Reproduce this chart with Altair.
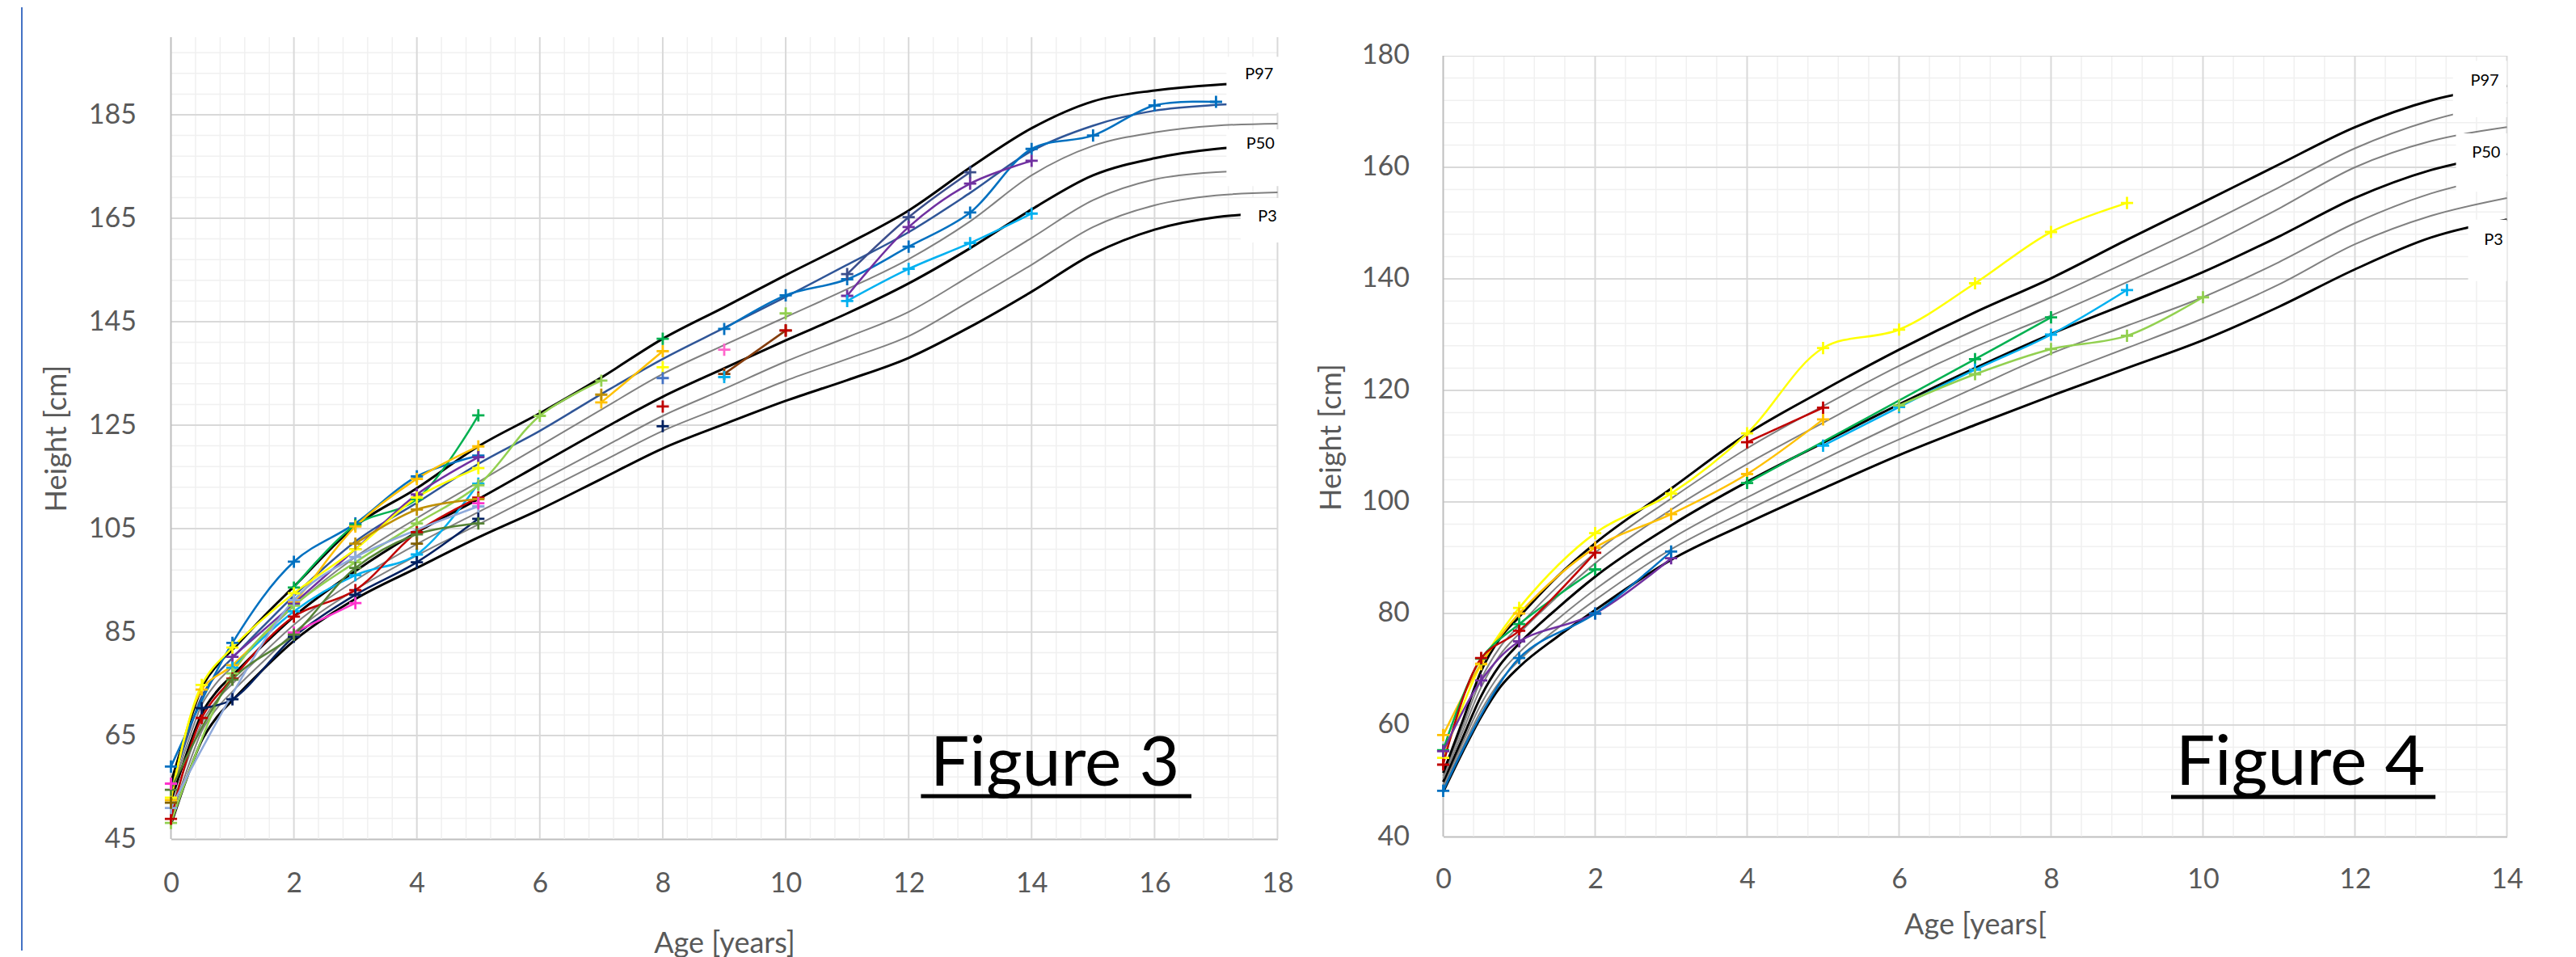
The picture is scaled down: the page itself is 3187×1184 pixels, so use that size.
import altair as alt
import pandas as pd

FONT = "Lato"
TXT = "#595959"
PLUS = "M-1,0L1,0M0,-1L0,1"

# ---------------- Figure 3 : percentile curves ----------------
F3_AGE = [0, 0.25, 0.5, 0.75, 1, 1.5, 2, 3, 4, 5, 6, 7, 8, 9, 10, 11, 12, 13, 14, 15, 16, 17, 18]
F3_P3 = [47.8, 56.5, 64.0, 68.6, 71.8, 77.8, 83.3, 91.4, 97.4, 103.3, 108.7, 114.6, 120.5, 125.2, 129.7, 133.7, 138.0, 144.0, 150.8, 158.1, 162.8, 165.2, 166.0]
F3_P10 = [49.2, 58.0, 65.8, 70.3, 73.5, 79.3, 84.9, 93.2, 99.8, 105.8, 111.9, 117.9, 123.9, 128.7, 133.6, 137.8, 142.2, 149.0, 156.0, 163.3, 167.5, 169.4, 170.0]
F3_P25 = [50.7, 59.6, 67.4, 71.9, 75.0, 80.9, 86.4, 95.0, 102.0, 108.2, 114.2, 120.5, 126.8, 132.0, 137.3, 142.0, 146.9, 153.9, 161.2, 168.5, 172.5, 173.9, 174.3]
F3_P50 = [52.3, 61.3, 69.2, 73.6, 76.6, 82.5, 88.0, 96.8, 104.3, 110.7, 117.4, 124.1, 130.5, 136.0, 141.4, 146.6, 152.4, 159.2, 166.7, 173.3, 176.6, 178.4, 179.0]
F3_P75 = [53.6, 62.8, 70.9, 75.3, 78.3, 84.3, 90.0, 99.5, 107.0, 114.0, 121.0, 128.0, 134.9, 140.5, 145.9, 151.3, 157.1, 164.4, 173.3, 179.0, 181.6, 182.9, 183.3]
F3_P90 = [54.8, 64.2, 72.5, 76.9, 80.0, 86.1, 92.0, 102.5, 110.0, 117.5, 123.9, 131.0, 137.8, 143.8, 149.8, 156.0, 162.3, 169.9, 178.0, 182.9, 185.8, 186.9, 187.3]
F3_P97 = [55.9, 65.6, 74.2, 78.6, 81.6, 87.9, 93.8, 105.5, 112.8, 120.9, 127.3, 134.2, 141.7, 147.8, 154.0, 160.0, 166.5, 174.8, 182.4, 187.6, 189.7, 190.8, 191.2]
F3_CURVES = ["P3", "P10", "P25", "P50", "P75", "P90", "P97"]
F3_CURVE_COLORS = ["#000000", "#808080", "#808080", "#000000", "#808080", "#2F5597", "#000000"]
F3_CURVE_WIDTHS = [3, 2, 2, 3, 2, 2.5, 3]

# ---------------- Figure 3 : patients (ages, heights) ----------------
F3_S01 = ([0, 1, 2, 3, 4, 5], [59.0, 82.9, 98.6, 106.0, 115.1, 119.1])
F3_S02 = ([2, 3, 4, 5], [93.6, 105.7, 110.7, 126.9])
F3_S03 = ([0, 0.5, 1, 2, 3, 4, 5], [52.5, 73.9, 78.6, 90.7, 105.4, 114.6, 120.9])
F3_S04 = ([1, 2, 3, 4, 5], [80.2, 90.5, 101.0, 111.6, 118.8])
F3_S05 = ([0, 0.5, 1, 2, 3, 4, 5], [53.0, 74.8, 82.0, 92.5, 101.0, 111.0, 116.7])
F3_S06 = ([1, 2, 3, 4, 5], [78.1, 89.0, 96.0, 100.0, 113.7])
F3_S07 = ([0, 1, 2, 3, 4, 5, 6, 7], [48.1, 77.0, 90.1, 98.5, 106.0, 113.4, 126.8, 133.6])
F3_S08 = ([0, 0.5, 1, 2, 3, 4, 5], [48.9, 68.4, 76.0, 88.0, 93.1, 104.3, 111.0])
F3_S09 = ([0.5, 1, 2, 3, 4, 5], [70.3, 72.0, 84.1, 92.2, 98.5, 106.9])
F3_S10 = ([2, 3], [84.9, 90.6])
F3_S11 = ([3, 4, 5], [102.1, 108.7, 110.7])
F3_S12 = ([0, 2, 3, 5], [51.0, 91.2, 99.5, 109.3])
F3_S13 = ([0, 1, 2, 3, 4, 5], [54.5, 75.8, 84.5, 97.4, 103.9, 106.0])
F3_S14 = ([0], [52.0])
F3_S15 = ([9, 10, 11, 12, 13, 14, 15, 16, 17], [143.6, 150.1, 153.2, 159.5, 166.1, 178.4, 181.0, 186.8, 187.5])
F3_S16 = ([11, 12, 13], [154.2, 165.2, 173.9])
F3_S17 = ([11, 12, 13, 14], [150.0, 163.3, 171.7, 176.1])
F3_S18 = ([11, 12, 13, 14], [149.0, 155.2, 160.2, 165.9])
F3_S19 = ([7, 8], [129.4, 139.3])
F3_S20 = ([7], [130.9])
F3_S21 = ([9, 10], [134.9, 143.3])
F3_S22 = ([8], [141.7])
F3_S23 = ([8], [136.2])
F3_S24 = ([8], [134.1])
F3_S25 = ([8], [128.6])
F3_S26 = ([8], [124.8])
F3_S27 = ([9], [139.6])
F3_S28 = ([10], [146.6])
F3_S29 = ([9], [134.3])
F3_S30 = ([4], [102.1])
F3_S31 = ([10], [143.3])
F3_S32 = ([5], [109.9])
F3_S33 = ([0], [55.7])
F3_SERIES = [F3_S01, F3_S02, F3_S03, F3_S04, F3_S05, F3_S06, F3_S07, F3_S08, F3_S09, F3_S10,
             F3_S11, F3_S12, F3_S13, F3_S14, F3_S15, F3_S16, F3_S17, F3_S18, F3_S19, F3_S20,
             F3_S21, F3_S22, F3_S23, F3_S24, F3_S25, F3_S26, F3_S27, F3_S28, F3_S29, F3_S30,
             F3_S31, F3_S32, F3_S33]
F3_SERIES_COLORS = ["#0070C0", "#00B050", "#FFC000", "#7030A0", "#FFFF00", "#00B0F0", "#92D050",
                    "#C00000", "#002060", "#FF33CC", "#BF8F00", "#8EA9DB", "#548235", "#806000",
                    "#0070C0", "#3B4E8C", "#7030A0", "#00B0F0", "#FFC000", "#BF8F00", "#843C0C",
                    "#00B050", "#FFFF00", "#4472C4", "#C00000", "#002060", "#FF66CC", "#92D050",
                    "#00B0F0", "#806000", "#C00000", "#FF33CC", "#FF33CC"]

# ---------------- Figure 4 : percentile curves ----------------
F4_AGE = [0, 0.25, 0.5, 0.75, 1, 1.5, 2, 3, 4, 5, 6, 7, 8, 9, 10, 11, 12, 13, 14]
F4_P3 = [48.0, 55.0, 61.5, 66.8, 70.4, 75.8, 80.6, 89.6, 96.2, 102.4, 108.4, 113.8, 119.0, 124.0, 129.0, 135.0, 141.7, 147.4, 150.6]
F4_P10 = [48.6, 55.8, 62.6, 67.9, 71.6, 77.3, 82.4, 91.5, 98.5, 105.0, 111.2, 117.0, 122.4, 127.6, 132.9, 139.0, 146.2, 151.3, 154.5]
F4_P25 = [49.2, 56.6, 63.8, 69.2, 73.0, 78.9, 84.3, 93.4, 100.8, 107.6, 114.2, 120.5, 126.6, 131.6, 136.7, 143.0, 150.0, 155.3, 158.6]
F4_P50 = [49.8, 57.5, 65.2, 70.8, 74.6, 80.9, 86.6, 95.8, 103.6, 110.6, 117.5, 124.0, 130.1, 135.6, 141.2, 147.6, 154.5, 159.5, 162.4]
F4_P75 = [50.4, 58.6, 66.8, 72.6, 76.4, 83.0, 89.0, 98.6, 106.8, 114.2, 121.4, 127.8, 133.4, 139.4, 145.6, 152.6, 160.0, 164.7, 167.2]
F4_P90 = [50.9, 59.5, 68.2, 74.0, 77.8, 84.8, 90.9, 100.6, 109.6, 117.2, 124.4, 130.8, 136.7, 143.0, 149.5, 156.4, 163.4, 168.4, 171.6]
F4_P97 = [51.4, 60.5, 69.7, 75.6, 79.4, 86.6, 92.6, 102.4, 112.2, 120.0, 127.3, 134.0, 140.1, 147.0, 153.7, 160.5, 167.2, 172.0, 174.6]
F4_CURVES = ["P3", "P10", "P25", "P50", "P75", "P90", "P97"]
F4_CURVE_COLORS = ["#000000", "#808080", "#808080", "#000000", "#808080", "#808080", "#000000"]
F4_CURVE_WIDTHS = [3, 2, 2, 3, 2, 2, 3]

# ---------------- Figure 4 : patients ----------------
F4_S01 = ([0, 0.5, 1, 2, 3, 4, 5, 6, 7, 8, 9], [54.1, 70.9, 81.0, 94.4, 101.5, 112.3, 127.6, 130.9, 139.2, 148.4, 153.6])
F4_S02 = ([0, 0.5, 1, 2, 3, 4, 5], [58.2, 71.0, 80.0, 91.8, 97.8, 105.0, 114.8])
F4_S03 = ([0, 0.5, 1, 2], [55.5, 71.9, 78.1, 87.9])
F4_S04 = ([4, 7, 8], [103.4, 125.6, 133.1])
F4_S05 = ([0, 0.5, 1, 2], [52.9, 72.0, 76.9, 90.9])
F4_S06 = ([4, 5], [110.7, 116.9])
F4_S07 = ([0, 0.5, 1, 2, 3], [55.3, 68.0, 75.0, 80.0, 89.9])
F4_S08 = ([0, 1, 2, 3], [48.2, 72.0, 80.0, 91.1])
F4_S09 = ([5, 6, 7, 8, 9], [110.1, 117.0, 123.7, 130.0, 138.0])
F4_S10 = ([6, 7, 8, 9, 10], [117.3, 122.9, 127.4, 129.8, 136.7])
F4_SERIES = [F4_S01, F4_S02, F4_S03, F4_S04, F4_S05, F4_S06, F4_S07, F4_S08, F4_S09, F4_S10]
F4_SERIES_COLORS = ["#FFFF00", "#FFC000", "#00B050", "#00B050", "#C00000", "#C00000",
                    "#7030A0", "#0070C0", "#00B0F0", "#92D050"]

# ---------------- axes / grid tick positions ----------------
F3_X_MAJOR = [0, 2, 4, 6, 8, 10, 12, 14, 16, 18]
F3_X_MINOR = [round(i * 0.4, 1) for i in range(46) if i % 5]
F3_Y_MAJOR = [45, 65, 85, 105, 125, 145, 165, 185]
F3_Y_MINOR = [45 + 4 * i for i in range(39) if i % 5]
F4_X_MAJOR = [0, 2, 4, 6, 8, 10, 12, 14]
F4_X_MINOR = [round(i * 0.4, 1) for i in range(36) if i % 5]
F4_Y_MAJOR = [40, 60, 80, 100, 120, 140, 160, 180]
F4_Y_MINOR = [40 + 4 * i for i in range(36) if i % 5]

# percentile label boxes: (x0, x1, y0, y1) and labels (x, y, text)
F3_BOXES = ([17.17, 17.17, 17.40], [18.26, 18.26, 18.26], [185.4, 171.2, 160.3], [196.2, 182.2, 168.9])
F3_PLABELS = ([17.47, 17.49, 17.68], [192.8, 179.4, 165.3], ["P97", "P50", "P3"])
F4_BOXES = ([13.29, 13.33, 13.49], [14.0, 14.0, 14.0], [169.0, 155.6, 139.6], [179.1, 166.1, 150.6])
F4_PLABELS = ([13.52, 13.54, 13.70], [175.5, 162.6, 147.0], ["P97", "P50", "P3"])


def long_curves(ages, lists, names, cols, widths):
    rows = []
    for name, vals, c, w in zip(names, lists, cols, widths):
        for a, v in zip(ages, vals):
            rows.append({"age": a, "h": v, "curve": name, "col": c, "sw": w})
    return pd.DataFrame(rows)


def long_series(series, cols):
    rows = []
    for i, ((ages, hs), c) in enumerate(zip(series, cols)):
        for a, v in zip(ages, hs):
            rows.append({"age": a, "h": v, "sid": "s%02d" % i, "col": c})
    return pd.DataFrame(rows)


def panel(W, H, xdom, ydom, top_val, xmaj, xmin, ymaj, ymin, curves_df, series_df,
          xtitle, fig_label, fig_xy, ul, boxes, plabels,
          xlab_pad, xtitle_pad, ytitle_pad, ylab_pad):
    xs = alt.Scale(domain=xdom, nice=False, zero=False)
    ys = alt.Scale(domain=ydom, nice=False, zero=False)
    xax = alt.Axis(values=xmaj, title=xtitle, grid=False, ticks=False, tickSize=0, labelPadding=xlab_pad,
                   titlePadding=xtitle_pad, labelFlush=False, labelOverlap=False, domainColor="#BFBFBF",
                   domainWidth=2, labelFont=FONT, labelFontSize=34, labelColor=TXT, titleFont=FONT,
                   titleFontSize=36, titleColor=TXT, titleFontWeight="normal", format="d")
    yax = alt.Axis(values=ymaj, title="Height [cm]", grid=False, ticks=False, tickSize=0,
                   labelPadding=ylab_pad, titlePadding=ytitle_pad, labelFlush=False, labelOverlap=False,
                   domain=False, labelFont=FONT, labelFontSize=34, labelColor=TXT, titleFont=FONT,
                   titleFontSize=36, titleColor=TXT, titleFontWeight="normal", format="d")

    def X(f):
        return alt.X(f, scale=xs, axis=xax)

    def Y(f):
        return alt.Y(f, scale=ys, axis=yax)

    layers = []
    # minor grid
    layers.append(alt.Chart(pd.DataFrame({"v": xmin})).mark_rule(color="#F0F0F0", strokeWidth=1.5).encode(
        x=X("v:Q"), y=alt.value(0), y2=alt.value(H)))
    layers.append(alt.Chart(pd.DataFrame({"v": ymin})).mark_rule(color="#F0F0F0", strokeWidth=1.5).encode(
        y=Y("v:Q"), x=alt.value(0), x2=alt.value(W)))
    # major grid
    layers.append(alt.Chart(pd.DataFrame({"v": xmaj[1:]})).mark_rule(color="#D9D9D9", strokeWidth=2).encode(
        x=X("v:Q"), y=alt.value(0), y2=alt.value(H)))
    layers.append(alt.Chart(pd.DataFrame({"v": ymaj[1:]})).mark_rule(color="#D9D9D9", strokeWidth=2).encode(
        y=Y("v:Q"), x=alt.value(0), x2=alt.value(W)))
    # blank band above the top of the value range (if any)
    if top_val < ydom[1]:
        layers.append(alt.Chart(pd.DataFrame({"a": [top_val], "b": [ydom[1]]})).mark_rect(
            color="white").encode(y=Y("a:Q"), y2="b:Q", x=alt.value(-1), x2=alt.value(W + 2)))
    # vertical axis line
    layers.append(alt.Chart(pd.DataFrame({"a": [ydom[0]], "b": [top_val]})).mark_rule(
        color="#BFBFBF", strokeWidth=2).encode(y=Y("a:Q"), y2="b:Q", x=alt.value(0)))
    # percentile curves
    layers.append(alt.Chart(curves_df).mark_line(interpolate="monotone").encode(
        x=X("age:Q"), y=Y("h:Q"),
        color=alt.Color("col:N", scale=None),
        strokeWidth=alt.StrokeWidth("sw:Q", scale=None),
        detail="curve:N"))
    # white label boxes + percentile labels
    bdf = pd.DataFrame({"x0": boxes[0], "x1": boxes[1], "y0": boxes[2], "y1": boxes[3]})
    layers.append(alt.Chart(bdf).mark_rect(color="white").encode(
        x=X("x0:Q"), x2="x1:Q", y=Y("y0:Q"), y2="y1:Q"))
    ldf = pd.DataFrame({"x": plabels[0], "y": plabels[1], "t": plabels[2]})
    layers.append(alt.Chart(ldf).mark_text(align="left", baseline="middle", font=FONT, fontSize=20,
                                            color="#000000").encode(
        x=X("x:Q"), y=Y("y:Q"), text="t:N"))
    # patients
    layers.append(alt.Chart(series_df).mark_line(interpolate="catmull-rom", strokeWidth=2.5).encode(
        x=X("age:Q"), y=Y("h:Q"), color=alt.Color("col:N", scale=None), detail="sid:N"))
    layers.append(alt.Chart(series_df).mark_point(shape=PLUS, filled=False, size=230, strokeWidth=2.8,
                                                   opacity=1).encode(
        x=X("age:Q"), y=Y("h:Q"), color=alt.Color("col:N", scale=None)))
    # Figure label, underlined
    fdf = pd.DataFrame({"x": [fig_xy[0]], "y": [fig_xy[1]], "t": [fig_label]})
    layers.append(alt.Chart(fdf).mark_text(align="left", baseline="alphabetic", font=FONT, fontSize=86,
                                            color="#000000").encode(
        x=X("x:Q"), y=Y("y:Q"), text="t:N"))
    udf = pd.DataFrame({"x0": [ul[0]], "x1": [ul[1]], "y": [ul[2]]})
    layers.append(alt.Chart(udf).mark_rule(color="#000000", strokeWidth=5).encode(
        x=X("x0:Q"), x2="x1:Q", y=Y("y:Q")))
    return layers


left_layers = panel(
    1369, 992, [0, 18], [45, 200], 200, F3_X_MAJOR, F3_X_MINOR, F3_Y_MAJOR, F3_Y_MINOR,
    long_curves(F3_AGE, [F3_P3, F3_P10, F3_P25, F3_P50, F3_P75, F3_P90, F3_P97], F3_CURVES,
                F3_CURVE_COLORS, F3_CURVE_WIDTHS),
    long_series(F3_SERIES, F3_SERIES_COLORS),
    "Age [years]", "Figure 3", (12.35, 55.3), (12.2, 16.6, 53.3), F3_BOXES, F3_PLABELS,
    38, 40, 20, 43)
# page-frame line at the left edge and bound helper on the right
left_layers.append(alt.Chart(pd.DataFrame({"k": [0]})).mark_rule(color="#4472C4", strokeWidth=2).encode(
    x=alt.value(-184.5), y=alt.value(-37), y2=alt.value(1130)))
left_layers.append(alt.Chart(pd.DataFrame({"k": [0]})).mark_rule(strokeWidth=1, opacity=0).encode(
    x=alt.value(1395), y=alt.value(0), y2=alt.value(10)))
left = alt.layer(*left_layers).properties(width=1369, height=992)

# right panel: plot area starts 23 px lower than the left one; the band above 180 is blank
right_layers = panel(
    1316, 989, [0, 14], [40, 183.33], 180, F4_X_MAJOR, F4_X_MINOR, F4_Y_MAJOR, F4_Y_MINOR,
    long_curves(F4_AGE, [F4_P3, F4_P10, F4_P25, F4_P50, F4_P75, F4_P90, F4_P97], F4_CURVES,
                F4_CURVE_COLORS, F4_CURVE_WIDTHS),
    long_series(F4_SERIES, F4_SERIES_COLORS),
    "Age [years[", "Figure 4", (9.64, 49.3), (9.58, 13.06, 47.1), F4_BOXES, F4_PLABELS,
    36, 22, 18, 42)
right_layers.append(alt.Chart(pd.DataFrame({"k": [0]})).mark_rule(strokeWidth=1, opacity=0).encode(
    x=alt.value(-175), y=alt.value(100), y2=alt.value(110)))
right = alt.layer(*right_layers).properties(width=1316, height=989)

chart = alt.hconcat(left, right, spacing=4).properties(
    padding={"left": 17.5, "top": 0, "right": 0, "bottom": 0},
    background="white",
).configure_view(stroke=None)

chart.save("out.html", embed_options={"renderer": "svg", "actions": False})
